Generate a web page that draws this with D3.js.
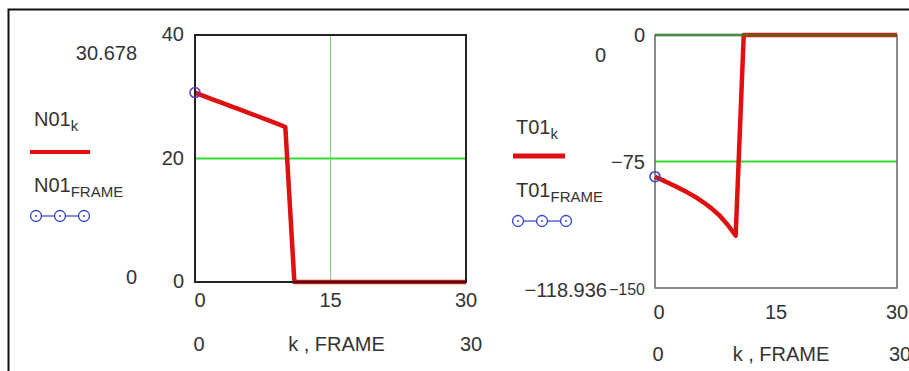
<!DOCTYPE html>
<html lang="en">
<head>
  <meta charset="utf-8">
  <title>N01 / T01</title>
  <script src="https://d3js.org/d3.v7.min.js"></script>
  <style type="text/css">
    body{ margin:0; background:#fff; }
    text{ font-family: "Liberation Sans", Arial, sans-serif; fill:#333; }
  </style>
</head>
<body>
<script type="text/javascript">
var width = 909, height = 371;

// data
var kValues = [0,1,2,3,4,5,6,7,8,9,10,11,12,13,14,15,16,17,18,19,20,21,22,23,24,25,26,27,28,29,30];
var n01 = [30.678,30.1,29.55,29.0,28.45,27.9,27.35,26.8,26.25,25.7,25.1,0,0,0,0,0,0,0,0,0,0,0,0,0,0,0,0,0,0,0,0];
var t01 = [-84,-86.2,-88.5,-90.8,-93.3,-96.0,-99.2,-102.8,-107.0,-112.5,-118.936,0,0,0,0,0,0,0,0,0,0,0,0,0,0,0,0,0,0,0,0];
var n01Frame = [{k:0, v:30.678}];
var t01Frame = [{k:0, v:-84}];
var xTicks = [0, 15, 30];
var n01Ticks = [0, 20, 40];
var t01Ticks = [-150, -75, 0];

var svg = d3.select("body").append("svg")
    .attr("width", width).attr("height", height);

// outer frame (cropped at right / bottom)
svg.append("path").attr("d", "M8.5,380 V9.5 H920")
    .attr("fill", "none").attr("stroke", "#111").attr("stroke-width", 2);

function subText(x, y, main, sub, anchor){
    var t = svg.append("text").attr("x", x).attr("y", y)
        .attr("font-size", 20).attr("text-anchor", anchor || "start");
    t.append("tspan").text(main);
    t.append("tspan").attr("font-size", 15).attr("dy", 5).text(sub);
    return t;
}

function legendCircles(x0, y){
    [0, 24].forEach(function(dx){
        svg.append("line").attr("x1", x0 + dx + 5.5).attr("x2", x0 + dx + 18.5)
            .attr("y1", y).attr("y2", y)
            .attr("stroke", "#3344cc").attr("stroke-width", 1.2);
    });
    [0, 24, 48].forEach(function(dx){
        svg.append("circle").attr("cx", x0 + dx).attr("cy", y).attr("r", 5.5)
            .attr("fill", "none").attr("stroke", "#3344cc").attr("stroke-width", 1.3);
        svg.append("circle").attr("cx", x0 + dx).attr("cy", y).attr("r", 1)
            .attr("fill", "#3344cc");
    });
}

//PANEL 1 - N01
var x1 = d3.scaleLinear().domain([0, 30]).range([195, 466]);
var y1 = d3.scaleLinear().domain([0, 40]).range([282, 35]);

svg.append("line").attr("x1", x1(15)).attr("x2", x1(15)).attr("y1", y1(40)).attr("y2", y1(0))
    .attr("stroke", "#7fd27f").attr("stroke-width", 1);
svg.append("line").attr("x1", x1(0)).attr("x2", x1(30)).attr("y1", y1(20)).attr("y2", y1(20))
    .attr("stroke", "#33dd33").attr("stroke-width", 2);

svg.append("path").datum(kValues)
    .attr("d", d3.line().x(function(d){ return x1(d); }).y(function(d, i){ return y1(n01[i]); }))
    .attr("fill", "none").attr("stroke", "#e01010").attr("stroke-width", 4.5)
    .attr("stroke-linejoin", "round");

svg.append("rect").attr("x", x1(0)).attr("y", y1(40))
    .attr("width", x1(30) - x1(0)).attr("height", y1(0) - y1(40))
    .attr("fill", "none").attr("stroke", "#222").attr("stroke-width", 2);

svg.selectAll(".f1").data(n01Frame).enter().append("circle").attr("class", "f1")
    .attr("cx", function(d){ return x1(d.k); }).attr("cy", function(d){ return y1(d.v); })
    .attr("r", 5).attr("fill", "none").attr("stroke", "#6633cc").attr("stroke-width", 1.5);

svg.selectAll(".yt1").data(n01Ticks).enter().append("text").attr("class", "yt1")
    .attr("x", 184).attr("y", function(d){ return y1(d) + 6; })
    .attr("text-anchor", "end").attr("font-size", 20).text(function(d){ return d; });
svg.selectAll(".xt1").data(xTicks).enter().append("text").attr("class", "xt1")
    .attr("x", function(d){ return x1(d) + (d === 0 ? 5 : 0); }).attr("y", 307)
    .attr("text-anchor", "middle").attr("font-size", 20).text(function(d){ return d; });

svg.append("text").attr("x", 137).attr("y", 60).attr("text-anchor", "end")
    .attr("font-size", 20).text(d3.max(n01).toFixed(3));
svg.append("text").attr("x", 137).attr("y", 284).attr("text-anchor", "end")
    .attr("font-size", 20).text(d3.min(n01));
svg.append("text").attr("x", x1(0) + 4).attr("y", 351).attr("text-anchor", "middle")
    .attr("font-size", 20).text(x1.domain()[0]);
svg.append("text").attr("x", x1(15) + 6).attr("y", 351).attr("text-anchor", "middle")
    .attr("font-size", 20).text("k , FRAME");
svg.append("text").attr("x", x1(30) + 5).attr("y", 351).attr("text-anchor", "middle")
    .attr("font-size", 20).text(x1.domain()[1]);

subText(34, 126, "N01", "k");
svg.append("line").attr("x1", 30).attr("x2", 90).attr("y1", 152).attr("y2", 152)
    .attr("stroke", "#e01010").attr("stroke-width", 4);
subText(34, 192, "N01", "FRAME");
legendCircles(36, 216);

//PANEL 2 - T01
var x2 = d3.scaleLinear().domain([0, 30]).range([655, 897]);
var y2 = d3.scaleLinear().domain([-150, 0]).range([288, 35]);

svg.append("line").attr("x1", x2(0)).attr("x2", x2(30)).attr("y1", y2(-75)).attr("y2", y2(-75))
    .attr("stroke", "#33dd33").attr("stroke-width", 2);

svg.append("rect").attr("x", x2(0)).attr("y", y2(0))
    .attr("width", x2(30) - x2(0)).attr("height", y2(-150) - y2(0))
    .attr("fill", "none").attr("stroke", "#666").attr("stroke-width", 1.5);

svg.append("path").datum(kValues)
    .attr("d", d3.line().x(function(d){ return x2(d); }).y(function(d, i){ return y2(t01[i]); }))
    .attr("fill", "none").attr("stroke", "#e01010").attr("stroke-width", 4.5)
    .attr("stroke-linejoin", "round");

svg.append("line").attr("x1", x2(0)).attr("x2", x2(30)).attr("y1", y2(0)).attr("y2", y2(0))
    .attr("stroke", "#228822").attr("stroke-width", 3).attr("stroke-opacity", 0.6);

svg.selectAll(".f2").data(t01Frame).enter().append("circle").attr("class", "f2")
    .attr("cx", function(d){ return x2(d.k); }).attr("cy", function(d){ return y2(d.v); })
    .attr("r", 5).attr("fill", "none").attr("stroke", "#3344cc").attr("stroke-width", 1.5);

svg.selectAll(".yt2").data(t01Ticks).enter().append("text").attr("class", "yt2")
    .attr("x", 645).attr("y", function(d){ return y2(d) + 7; })
    .attr("text-anchor", "end").attr("font-size", function(d){ return d === -150 ? 16 : 20; })
    .text(function(d){ return d < 0 ? "\u2212" + Math.abs(d) : d; });
svg.selectAll(".xt2").data(xTicks).enter().append("text").attr("class", "xt2")
    .attr("x", function(d){ return x2(d) + (d === 0 ? 4 : 0); }).attr("y", 319)
    .attr("text-anchor", "middle").attr("font-size", 20).text(function(d){ return d; });

svg.append("text").attr("x", 606).attr("y", 62).attr("text-anchor", "end")
    .attr("font-size", 20).text(d3.max(t01));
svg.append("text").attr("x", 607).attr("y", 297).attr("text-anchor", "end")
    .attr("font-size", 20).text("\u2212" + Math.abs(d3.min(t01)).toFixed(3));
svg.append("text").attr("x", x2(0) + 3).attr("y", 361).attr("text-anchor", "middle")
    .attr("font-size", 20).text(x2.domain()[0]);
svg.append("text").attr("x", x2(15) + 5).attr("y", 361).attr("text-anchor", "middle")
    .attr("font-size", 20).text("k , FRAME");
svg.append("text").attr("x", x2(30) + 3).attr("y", 361).attr("text-anchor", "middle")
    .attr("font-size", 20).text(x2.domain()[1]);

subText(516, 134, "T01", "k");
svg.append("line").attr("x1", 513).attr("x2", 565).attr("y1", 156).attr("y2", 156)
    .attr("stroke", "#e01010").attr("stroke-width", 5);
subText(516, 197, "T01", "FRAME");
legendCircles(518, 221);
</script>
</body>
</html>
